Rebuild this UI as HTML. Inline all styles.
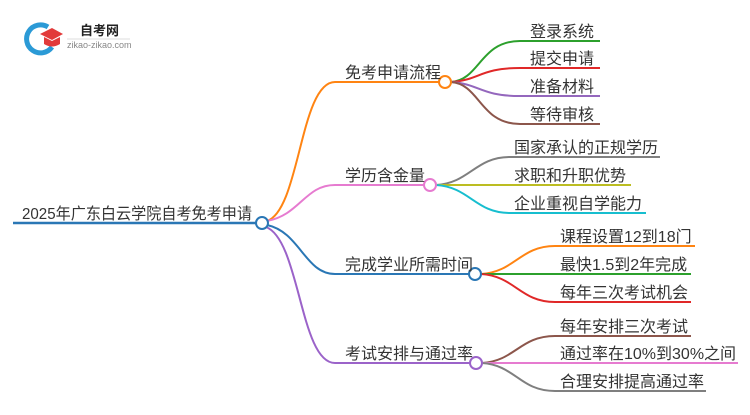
<!DOCTYPE html>
<html><head><meta charset="utf-8"><style>
body{margin:0;width:750px;height:410px;background:#fff;overflow:hidden}
svg text{font-family:"Liberation Sans","Noto Sans CJK SC",sans-serif;font-size:16px;fill:#333}
</style></head><body>
<svg width="750" height="410" viewBox="0 0 750 410" xmlns="http://www.w3.org/2000/svg">
<g fill="none" stroke-width="2">
<path d="M48 27 A14 14 0 1 0 52 47" stroke="#2b9ad6" stroke-width="5"/>
<path d="M40 34 L52 28 L63 34 L52 40 Z" fill="#e23a3a" stroke="none"/>
<path d="M44 37 v7 q8 5 16 0 v-7 l-8 4 z" fill="#e23a3a" stroke="none"/>
<line x1="67" y1="39" x2="130" y2="39" stroke="#ddd" stroke-width="1"/>
<line x1="13" y1="223" x2="256" y2="223" stroke="#2a77b5" stroke-width="2.5"/>
<path d="M267 221 C300 210,300 82,335 82 L439 82" stroke="#ff8412"/>
<path d="M267 221 C300 215,305 185,335 185 L424 185" stroke="#e67bd0"/>
<path d="M267 225 C300 232,305 274,335 274 L469 274" stroke="#2a77b5"/>
<path d="M266 227 C300 240,300 363,335 363 L470 363" stroke="#9b63c9"/>
<path d="M451 82 C480 80,480 41,520 41 L600 41" stroke="#2ca02c"/>
<path d="M451 82 C480 80,480 68,520 68 L600 68" stroke="#e02828"/>
<path d="M451 82 C480 84,480 96,520 96 L600 96" stroke="#9467bd"/>
<path d="M451 82 C480 84,480 124,520 124 L600 124" stroke="#8c564b"/>
<path d="M436 185 C470 183,475 157,510 157 L660 157" stroke="#7f7f7f"/>
<path d="M436 185 L631 185" stroke="#bcbd22"/>
<path d="M436 185 C470 187,475 213,510 213 L646 213" stroke="#17becf"/>
<path d="M481 274 C515 272,520 246,555 246 L695 246" stroke="#ff8412"/>
<path d="M481 274 L691 274" stroke="#2ca02c"/>
<path d="M481 274 C515 276,520 302,555 302 L691 302" stroke="#e02828"/>
<path d="M482 363 C515 361,520 336,555 336 L691 336" stroke="#8c564b"/>
<path d="M482 363 L738 363" stroke="#e67bd0"/>
<path d="M482 363 C515 365,520 391,555 391 L706 391" stroke="#7f7f7f"/>
<circle cx="262" cy="223" r="6" fill="#fff" stroke="#2a77b5"/>
<circle cx="445" cy="82" r="6" fill="#fff" stroke="#ff8412"/>
<circle cx="430" cy="185" r="6" fill="#fff" stroke="#e67bd0"/>
<circle cx="475" cy="274" r="6" fill="#fff" stroke="#2a77b5"/>
<circle cx="476" cy="363" r="6" fill="#fff" stroke="#9b63c9"/>
</g>
<text x="80" y="35" style="font-size:13px;font-weight:bold;fill:#222">自考网</text>
<text x="67" y="48" style="font-size:9px;fill:#888">zikao-zikao.com</text>
<text x="22" y="219" textLength="230" lengthAdjust="spacingAndGlyphs">2025年广东白云学院自考免考申请</text>
<text x="345" y="78">免考申请流程</text>
<text x="345" y="181">学历含金量</text>
<text x="345" y="270">完成学业所需时间</text>
<text x="345" y="359">考试安排与通过率</text>
<text x="530" y="37">登录系统</text>
<text x="530" y="64">提交申请</text>
<text x="530" y="92">准备材料</text>
<text x="530" y="120">等待审核</text>
<text x="514" y="153">国家承认的正规学历</text>
<text x="514" y="181">求职和升职优势</text>
<text x="514" y="209">企业重视自学能力</text>
<text x="560" y="242">课程设置12到18门</text>
<text x="560" y="270">最快1.5到2年完成</text>
<text x="560" y="298">每年三次考试机会</text>
<text x="560" y="332">每年安排三次考试</text>
<text x="560" y="359">通过率在10%到30%之间</text>
<text x="560" y="387">合理安排提高通过率</text>
</svg>
</body></html>
